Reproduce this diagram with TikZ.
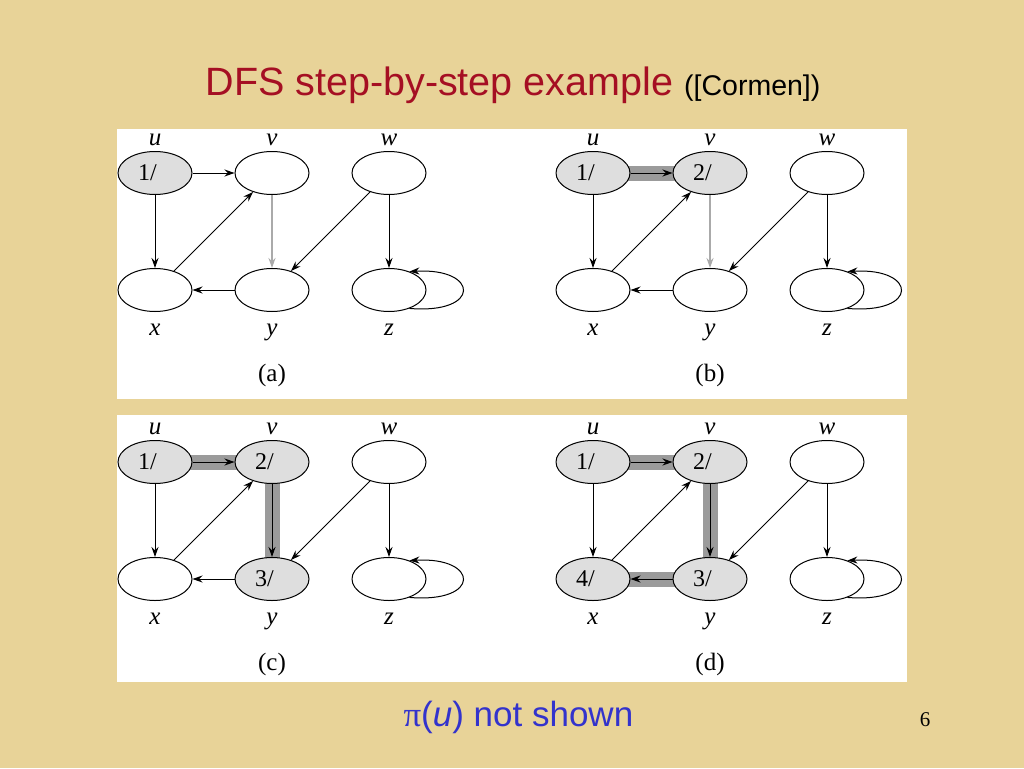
\documentclass[tikz,border=0pt]{standalone}
\usepackage{fontspec}
\setmainfont{Liberation Serif}
\newfontfamily\slidefont{Liberation Sans}
\usepackage{tikz}
\usetikzlibrary{arrows.meta}
\usetikzlibrary{shapes.geometric}
\definecolor{parchment}{RGB}{232,211,152}
\definecolor{titlered}{RGB}{165,15,35}
\definecolor{noteblue}{RGB}{51,51,204}
\definecolor{vertexgray}{RGB}{222,222,222}
\definecolor{treegray}{RGB}{155,155,155}
\definecolor{edgegray}{RGB}{170,170,170}
\pgfdeclarelayer{back}
\pgfsetlayers{back,main}

\begin{document}
\begin{tikzpicture}[x=1pt,y=-1pt,
    dfsnode/.style={ellipse,draw,line width=1pt,minimum width=74pt,minimum height=43pt,
        inner sep=0pt,text width=34pt,align=left,font=\fontsize{24}{24}\selectfont},
    vname/.style={anchor=base,font=\fontsize{25}{25}\selectfont\itshape},
    dfsarc/.style={-{Stealth[length=10pt,width=7pt]},line width=1pt},
    treeband/.style={line width=15pt,treegray}]
    \useasboundingbox (0,0) rectangle (1024,768);
    \begin{pgfonlayer}{back}
        \fill[parchment] (0,0) rectangle (1024,768);
        \fill[white] (117,129) rectangle (907,399);
        \fill[white] (117,415) rectangle (907,682);
    \end{pgfonlayer}
    \node[anchor=base,text=titlered,font=\slidefont\fontsize{39.5}{40}\selectfont] (title) at (513,95)
        {DFS step-by-step example {\color{black}\fontsize{28.5}{30}\selectfont ([Cormen])}};
    \foreach \px/\py/\stage/\panel in {0/0/1/a,438/0/2/b,0/289/3/c,438/289/4/d}{
        \begin{scope}[shift={(\px,\py)}]
            \node[dfsnode,fill=vertexgray] (u) at (155,173) {1/};
            \ifnum\stage>1 \node[dfsnode,fill=vertexgray] (v) at (272,173) {2/};
            \else \node[dfsnode] (v) at (272,173) {}; \fi
            \node[dfsnode] (w) at (389,173) {};
            \ifnum\stage>3 \node[dfsnode,fill=vertexgray] (x) at (155,290) {4/};
            \else \node[dfsnode] (x) at (155,290) {}; \fi
            \ifnum\stage>2 \node[dfsnode,fill=vertexgray] (y) at (272,290) {3/};
            \else \node[dfsnode] (y) at (272,290) {}; \fi
            \node[dfsnode] (z) at (389,290) {};
            % tree edges
            \begin{pgfonlayer}{back}
                \ifnum\stage>1 \draw[treeband] (u.center) -- (v.center); \fi
                \ifnum\stage>2 \draw[treeband] (v.center) -- (y.center); \fi
                \ifnum\stage>3 \draw[treeband] (y.center) -- (x.center); \fi
            \end{pgfonlayer}
            \draw[dfsarc] (u) -- (v);
            \draw[dfsarc] (u) -- (x);
            \draw[dfsarc] (x) -- (v);
            \ifnum\stage<3 \draw[dfsarc,edgegray,line width=1.6pt] (v) -- (y);
            \else \draw[dfsarc] (v) -- (y); \fi
            \draw[dfsarc] (y) -- (x);
            \draw[dfsarc] (w) -- (y);
            \draw[dfsarc] (w) -- (z);
            \draw[dfsarc] (z.-42) .. controls +(72,6) and +(70,-4) .. (z.42);
            \node[vname] (lu) at (155,145) {u};
            \node[vname] (lv) at (272,145) {v};
            \node[vname] (lw) at (389,145) {w};
            \node[vname] (lx) at (155,335) {x};
            \node[vname] (ly) at (272,335) {y};
            \node[vname] (lz) at (389,335) {z};
            \node[anchor=base,font=\fontsize{25}{25}\selectfont] (cap) at (272,381) {(\panel)};
        \end{scope}
    }
    \node[anchor=base west,text=noteblue,font=\slidefont\fontsize{35}{36}\selectfont] (note) at (400,726)
        {{\rmfamily π}(\textit{u}) not shown};
    \node[anchor=base,font=\fontsize{21}{21}\selectfont] (page) at (925,726) {6};
\end{tikzpicture}
\end{document}
